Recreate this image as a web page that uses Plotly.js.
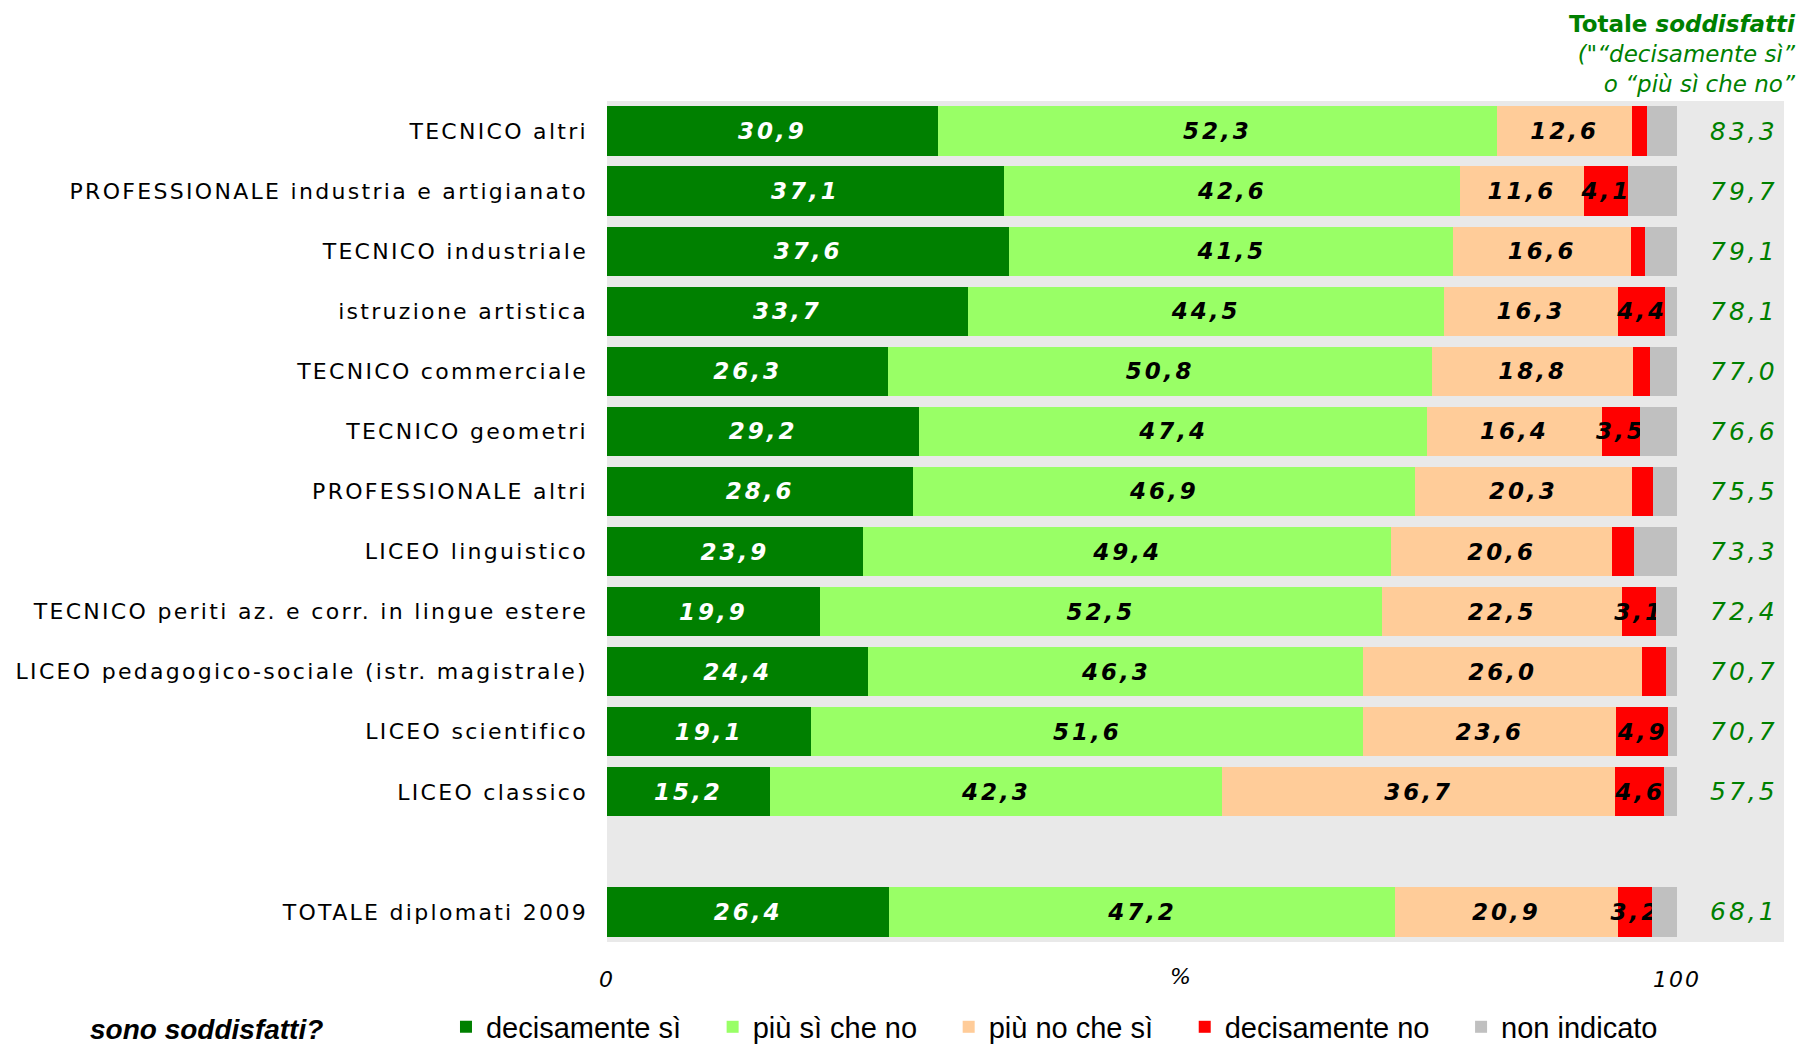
<!DOCTYPE html>
<html>
<head>
<meta charset="utf-8">
<script src="https://cdn.plot.ly/plotly-3.0.1.min.js"></script>
<style>
  html, body { margin: 0; padding: 0; background: #ffffff; }
  #chart { width: 1803px; height: 1045px; }
  .ytick text { letter-spacing: 2.3px; }
  .xtick text { letter-spacing: 2px; }
  text.bartext { letter-spacing: 3px; }
  .annotation-text { letter-spacing: 3px; }
  .annotation-text[data-unformatted^="<b>Totale"],
  .annotation-text[data-unformatted^="<b><i>sono"],
  .annotation-text[data-unformatted="%"] { letter-spacing: 0px; }
</style>
</head>
<body>
<div id="chart"></div>
<script>
// ---- data ----
const categories = [
  'TECNICO altri',
  'PROFESSIONALE industria e artigianato',
  'TECNICO industriale',
  'istruzione artistica',
  'TECNICO commerciale',
  'TECNICO geometri',
  'PROFESSIONALE altri',
  'LICEO linguistico',
  'TECNICO periti az. e corr. in lingue estere',
  'LICEO pedagogico-sociale (istr. magistrale)',
  'LICEO scientifico',
  'LICEO classico',
  'TOTALE diplomati 2009'
];
const spacerCategory = ' ';
const decisamenteSi  = [30.9, 37.1, 37.6, 33.7, 26.3, 29.2, 28.6, 23.9, 19.9, 24.4, 19.1, 15.2, 26.4];
const piuSiCheNo     = [52.3, 42.6, 41.5, 44.5, 50.8, 47.4, 46.9, 49.4, 52.5, 46.3, 51.6, 42.3, 47.2];
const piuNoCheSi     = [12.6, 11.6, 16.6, 16.3, 18.8, 16.4, 20.3, 20.6, 22.5, 26.0, 23.6, 36.7, 20.9];
const decisamenteNo  = [1.4, 4.1, 1.3, 4.4, 1.6, 3.5, 2.0, 2.1, 3.1, 2.3, 4.9, 4.6, 3.2];
const nonIndicato    = [2.8, 4.6, 3.0, 1.1, 2.5, 3.5, 2.2, 4.0, 2.0, 1.0, 0.8, 1.2, 2.3];
const totaleSoddisfatti = [83.3, 79.7, 79.1, 78.1, 77.0, 76.6, 75.5, 73.3, 72.4, 70.7, 70.7, 57.5, 68.1];
const seriesNames = ['decisamente sì', 'più sì che no', 'più no che sì', 'decisamente no', 'non indicato'];
const xTickVals = [0, 100];
const xTickText = ['0', '100'];

// ---- helpers ----
const fmt = v => v.toFixed(1).replace('.', ',');
const yOrder = categories.slice(0, categories.length - 1).concat([spacerCategory, categories[categories.length - 1]]);
const legendPad = '\u00a0\u00a0\u00a0\u200a';

const colors = ['#008000', '#99ff66', '#ffcc99', '#ff0000', '#c0c0c0'];
const valueFont = (c) => ({ family: 'DejaVu Sans, Verdana, sans-serif', size: 23, color: c, weight: 'bold', style: 'italic' });

function barTrace(name, values, color, textColor, labelRule) {
  return {
    type: 'bar',
    orientation: 'h',
    name: name + legendPad,
    y: categories,
    x: values,
    marker: { color: color, line: { width: 0 } },
    text: values.map(v => labelRule(v) ? fmt(v) : ''),
    textposition: 'inside',
    insidetextanchor: 'middle',
    textangle: 0,
    constraintext: 'none',
    insidetextfont: valueFont(textColor),
    hoverinfo: 'skip'
  };
}

const traces = [
  barTrace(seriesNames[0], decisamenteSi, colors[0], '#ffffff', () => true),
  barTrace(seriesNames[1], piuSiCheNo, colors[1], '#000000', () => true),
  barTrace(seriesNames[2], piuNoCheSi, colors[2], '#000000', () => true),
  barTrace(seriesNames[3], decisamenteNo, colors[3], '#000000', v => v >= 3),
  barTrace(seriesNames[4], nonIndicato, colors[4], '#000000', () => false)
];

const annotations = [];
categories.forEach((c, i) => {
  annotations.push({
    xref: 'paper', x: 1, xanchor: 'right', xshift: -4,
    yref: 'y', y: c, yanchor: 'middle',
    text: fmt(totaleSoddisfatti[i]),
    showarrow: false,
    font: { family: 'DejaVu Sans, Verdana, sans-serif', size: 25, color: '#008000', style: 'italic' }
  });
});
annotations.push({
  xref: 'paper', x: 1, xanchor: 'right', xshift: 14,
  yref: 'paper', y: 1, yanchor: 'top', yshift: 92,
  align: 'right',
  text: '<b>Totale <i>soddisfatti</i></b><br><i>("“decisamente sì”</i><br><i>o “più sì che no”</i>',
  showarrow: false,
  font: { family: 'DejaVu Sans, Verdana, sans-serif', size: 23, color: '#008000' }
});
annotations.push({
  xref: 'x', x: 53.6, xanchor: 'center',
  yref: 'paper', y: 0, yanchor: 'top', yshift: -20,
  text: '%',
  showarrow: false,
  font: { family: 'DejaVu Sans, Verdana, sans-serif', size: 22, color: '#000000', style: 'italic' }
});
annotations.push({
  xref: 'paper', x: -0.441, xanchor: 'left',
  yref: 'paper', y: -0.1046, yanchor: 'middle',
  text: '<b><i>sono soddisfatti?</i></b>',
  showarrow: false,
  font: { family: 'Liberation Sans, Arial, sans-serif', size: 28, color: '#000000' }
});

const layout = {
  width: 1803,
  height: 1045,
  margin: { l: 607, r: 19, t: 101, b: 103, pad: 0, autoexpand: false },
  paper_bgcolor: '#ffffff',
  plot_bgcolor: '#e9e9e9',
  barmode: 'stack',
  bargap: 0.18,
  showlegend: true,
  uniformtext: { mode: 'show', minsize: 23 },
  font: { family: 'DejaVu Sans, Verdana, sans-serif', color: '#000000' },
  xaxis: {
    range: [0, 110],
    tickvals: xTickVals,
    ticktext: xTickText,
    showgrid: false,
    zeroline: false,
    showline: false,
    ticks: '',
    ticklabelstandoff: 22,
    tickfont: { family: 'DejaVu Sans, Verdana, sans-serif', size: 22, color: '#000000', style: 'italic' },
    fixedrange: true
  },
  yaxis: {
    type: 'category',
    categoryorder: 'array',
    categoryarray: yOrder,
    autorange: 'reversed',
    showgrid: false,
    zeroline: false,
    showline: false,
    ticks: '',
    ticklabelstandoff: 18,
    tickfont: { family: 'DejaVu Sans, Verdana, sans-serif', size: 22, color: '#000000' },
    fixedrange: true
  },
  legend: {
    orientation: 'h',
    xref: 'paper', x: -0.1368, xanchor: 'left',
    yref: 'paper', y: -0.101, yanchor: 'middle',
    traceorder: 'normal',
    bgcolor: 'rgba(0,0,0,0)',
    font: { family: 'Liberation Sans, Arial, sans-serif', size: 29, color: '#000000' }
  },
  annotations: annotations
};

Plotly.newPlot('chart', traces, layout, { staticPlot: true, displayModeBar: false });
</script>
</body>
</html>
